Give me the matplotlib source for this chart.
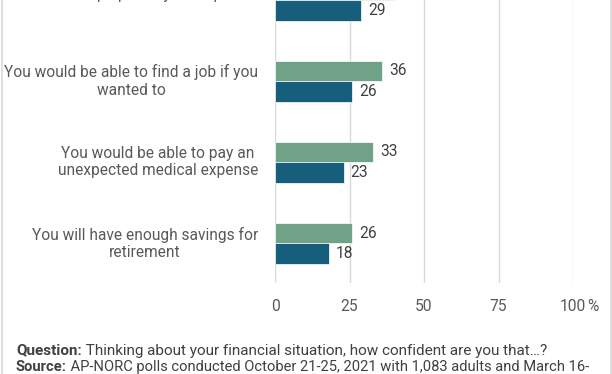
import matplotlib
matplotlib.use("Agg")
import matplotlib.pyplot as plt
from matplotlib.lines import Line2D
import numpy as np

plt.rcParams["font.family"] = ["Roboto", "DejaVu Sans"]

categories = [
    "You could keep up with your expenses",
    "You would be able to find a job if you\nwanted to",
    "You would be able to pay an\nunexpected medical expense",
    "You will have enough savings for\nretirement",
]
oct_2021 = [40, 36, 33, 26]
mar_2022 = [29, 26, 23, 18]
x_ticks = [0, 25, 50, 75, 100]

GREEN = "#6fa287"
BLUE = "#175e7c"
TEXT = "#595959"
DARK = "#404040"
GRID = "#d9d9d9"
FS = 11.2

fig = plt.figure(figsize=(6.12, 3.74), dpi=100)
ax = fig.add_axes([275 / 612, 1 - 283.3 / 374, (573 - 275) / 612, 283.3 / 374])

y = np.arange(len(categories))
h = 0.254
ax.barh(y - h / 2, oct_2021, height=h, color=GREEN, edgecolor="white", linewidth=0.5, zorder=3)
ax.barh(y + h / 2, mar_2022, height=h, color=BLUE, edgecolor="white", linewidth=0.5, zorder=3)

for i in range(len(categories)):
    ax.text(oct_2021[i] + 2.3, y[i] - h / 2, str(oct_2021[i]), va="center", ha="left",
            fontsize=FS, color=DARK)
    ax.text(mar_2022[i] + 2.3, y[i] + h / 2, str(mar_2022[i]), va="center", ha="left",
            fontsize=FS, color=DARK)

ax.set_xlim(0, 100)
ax.set_ylim(3.492, 0.0606)
ax.set_xticks(x_ticks)
ax.set_xticklabels([str(t) for t in x_ticks], fontsize=FS, color=TEXT)
ax.tick_params(axis="x", length=0, pad=11)
ax.set_yticks(y)
# the first label sits mostly above the crop, drawn separately below
ax.set_yticklabels([""] + categories[1:], fontsize=FS, color=TEXT, ha="right", va="center",
                   multialignment="center", linespacing=1.2)
ax.tick_params(axis="y", length=0, pad=12)
ax.grid(axis="x", color=GRID, linewidth=1, zorder=0)
for s in ax.spines.values():
    s.set_visible(False)

fig.text(263 / 612, 1 + 1 / 374, categories[0], fontsize=FS, color=TEXT, ha="right", va="baseline")

fig.canvas.draw()
renderer = fig.canvas.get_renderer()

# "%" right after the last tick label
last = ax.get_xticklabels()[-1]
bb = last.get_window_extent(renderer)
fig.text((bb.x1 + 1) / 612, bb.y0 / 374, "%", fontsize=FS, color=TEXT, ha="left", va="bottom")

# footer: bold lead-in followed by regular text, on a shared baseline
foot = [("Question:", " Thinking about your financial situation, how confident are you that\u2026?", 354.5, 11.0),
        ("Source:", " AP-NORC polls conducted October 21-25, 2021 with 1,083 adults and March 16-", 371, 10.6)]
for bold, rest, ypx, fs in foot:
    t = fig.text(16 / 612, 1 - ypx / 374, bold, fontsize=fs, fontweight="bold", color=DARK, va="baseline")
    w = t.get_window_extent(renderer).width
    fig.text((16 + w) / 612, 1 - ypx / 374, rest, fontsize=fs, color=DARK, va="baseline")

fig.add_artist(Line2D([1.5 / 612, 1.5 / 612], [0, 1], color=GRID, linewidth=1.2, transform=fig.transFigure))
fig.add_artist(Line2D([610.5 / 612, 610.5 / 612], [0, 1], color=GRID, linewidth=1.2, transform=fig.transFigure))

fig.savefig("out.png", dpi=100)
